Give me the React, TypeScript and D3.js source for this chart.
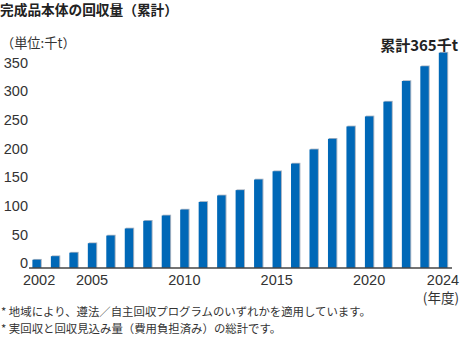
import React from "react";
import * as d3 from "d3";

const years: number[] = [2002,2003,2004,2005,2006,2007,2008,2009,2010,2011,2012,2013,2014,2015,2016,2017,2018,2019,2020,2021,2022,2023,2024];
const values: number[] = [14,20,26,42,55,67,80,89,99,112,123,132,150,164,177,201,219,240,257,282,317,342,365];
const yTicks: number[] = [0,50,100,150,200,250,300,350];
const xTickYears: number[] = [2002,2005,2010,2015,2020,2024];
const title = "完成品本体の回収量（累計）";
const unitLabel = "（単位:千t）";
const totalLabel = "累計365千t";
const yearUnit = "(年度)";
const notes: string[] = [
  "* 地域により、遵法／自主回収プログラムのいずれかを適用しています。",
  "* 実回収と回収見込み量（費用負担済み）の総計です。",
];

const W = 460, H = 338;
const JP = "'Noto Sans CJK JP', 'Noto Sans', sans-serif";
const NUM = "'Liberation Sans', Arial, sans-serif";
const BLUE = "#0068b7";

export default function App() {
  const x = d3.scalePoint<number>().domain(years).range([36.6, 443]);
  const y = d3.scaleLinear().domain([0, 365]).range([268, 52.7]);
  const yLab = d3.scaleLinear().domain([0, 350]).range([263.3, 62.5]);
  const bw = 8.4;
  return (
    <div style={{ position: "fixed", left: 0, top: 0, width: W, height: H, background: "#fff" }}>
      <svg width={W} height={H} style={{ display: "block" }}>
        <text x={0} y={15} fontFamily={JP} fontWeight={700} fontSize={13.7} fill="#222">{title}</text>
        <text x={1} y={47.5} fontFamily={JP} fontSize={13.2} fill="#333">{unitLabel}</text>
        <text x={458} y={50.5} textAnchor="end" fontFamily={JP} fontWeight={700} fontSize={15} fill="#222">{totalLabel}</text>
        {yTicks.map((t) => (
          <text key={t} x={28} y={yLab(t)} textAnchor="end" dominantBaseline="central" fontFamily={NUM} fontSize={14.5} fill="#333">{t}</text>
        ))}
        {years.map((yr, i) => {
          const cx = x(yr)!;
          const top = y(values[i]);
          return (
            <g key={yr}>
              <rect x={cx - bw / 2 + 1} y={top - 0.8} width={bw} height={y(0) - top + 0.8} fill="#a9b4c2" />
              <rect x={cx - bw / 2} y={top} width={bw} height={y(0) - top} fill={BLUE} />
            </g>
          );
        })}
        <line x1={29} x2={452} y1={y(0)} y2={y(0)} stroke="#444" strokeWidth={1.6} />
        {xTickYears.map((yr) => (
          <text key={yr} x={x(yr)! + (yr === 2002 ? 2.5 : 0)} y={284.5} textAnchor="middle" fontFamily={NUM} fontSize={14.5} fill="#333">{yr}</text>
        ))}
        <text x={459} y={303} textAnchor="end" fontFamily={JP} fontSize={13.5} fill="#333">{yearUnit}</text>
        {notes.map((n, i) => (
          <text key={i} x={1} y={315.5 + i * 17} fontFamily={JP} fontSize={11.4} fill="#333">{n}</text>
        ))}
      </svg>
    </div>
  );
}
